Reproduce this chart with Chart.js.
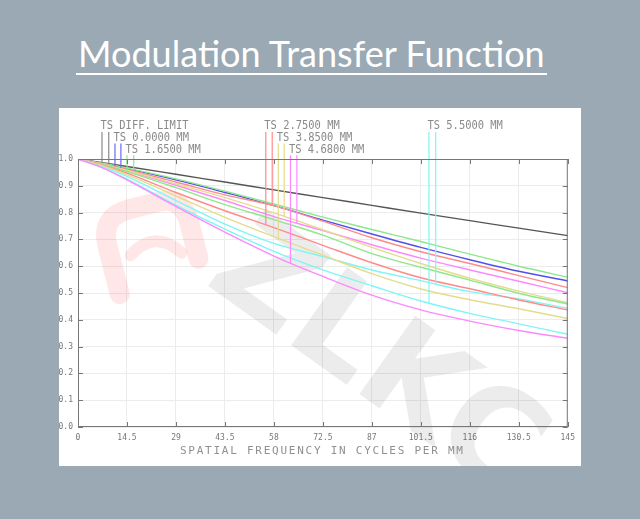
<!DOCTYPE html>
<html>
<head>
<meta charset="utf-8">
<script src="https://cdn.jsdelivr.net/npm/chart.js@4.4.0/dist/chart.umd.min.js"></script>
<style>
  body { margin: 0; width: 640px; height: 519px; background: #9aa9b4; overflow: hidden; position: relative; }
  #title { position: absolute; left: 78px; top: 35px; font: 36px/36px Lato, sans-serif; color: #fff; white-space: nowrap; transform-origin: 0 0; }
  #rule { position: absolute; left: 76px; top: 73px; width: 471px; height: 2px; background: #fff; }
  #panel { position: absolute; left: 59px; top: 108px; width: 522px; height: 358px; background: #fff; }
</style>
</head>
<body>
<div id="title">Modulation Transfer Function</div>
<div id="rule"></div>
<div id="panel"><canvas id="myChart" width="522" height="358"></canvas></div>
<script>
// spatial frequency (cycles/mm) where values were read
let freq = [0, 7.25, 14.5, 29, 43.5, 58, 72.5, 87, 101.5, 116, 130.5, 145];

let diffLimit = [1.0, 0.986, 0.972, 0.943, 0.914, 0.885, 0.856, 0.827, 0.798, 0.770, 0.742, 0.714];
let field0S = [1.0, 0.983, 0.964, 0.922, 0.875, 0.826, 0.772, 0.720, 0.670, 0.624, 0.581, 0.545];
let field165T = [1.0, 0.979, 0.953, 0.893, 0.830, 0.774, 0.716, 0.647, 0.596, 0.548, 0.499, 0.459];
let field165S = [1.0, 0.984, 0.966, 0.926, 0.880, 0.832, 0.783, 0.737, 0.692, 0.645, 0.600, 0.559];
let field275T = [1.0, 0.977, 0.947, 0.875, 0.807, 0.744, 0.678, 0.613, 0.557, 0.516, 0.474, 0.437];
let field275S = [1.0, 0.982, 0.961, 0.914, 0.866, 0.826, 0.768, 0.706, 0.654, 0.610, 0.565, 0.520];
let field385T = [1.0, 0.975, 0.942, 0.862, 0.782, 0.710, 0.641, 0.572, 0.515, 0.475, 0.441, 0.405];
let field385S = [1.0, 0.981, 0.958, 0.907, 0.856, 0.799, 0.736, 0.670, 0.610, 0.555, 0.507, 0.464];
let field468T = [1.0, 0.967, 0.922, 0.823, 0.727, 0.638, 0.562, 0.492, 0.437, 0.395, 0.360, 0.331];
let field468S = [1.0, 0.980, 0.956, 0.902, 0.845, 0.785, 0.733, 0.680, 0.630, 0.586, 0.544, 0.501];
let field55T = [1.0, 0.968, 0.925, 0.828, 0.738, 0.655, 0.586, 0.527, 0.470, 0.424, 0.385, 0.346];
let field55S = [1.0, 0.972, 0.935, 0.845, 0.757, 0.685, 0.636, 0.586, 0.546, 0.505, 0.478, 0.443];

let legendNames = ["TS DIFF. LIMIT", "TS 0.0000 MM", "TS 1.6500 MM", "TS 2.7500 MM", "TS 3.8500 MM", "TS 4.6800 MM", "TS 5.5000 MM"];
let legendColors = ["#8a8a8a", "#6a6af0", "#8ce88c", "#ff8a8a", "#e4dc8c", "#ff88ff", "#7ff5f5"];
// frequency of the two marker lines (T, S) under each legend entry
let markerFreq = [[7.1, 9.1], [10.95, 12.7], [14.5, 16.5], [55.6, 57.5], [59.3, 61.05], [62.9, 64.8], [103.9, 105.9]];
let markerRow = [0, 1, 2, 0, 1, 2, 0];

let xTicks = [0, 14.5, 29, 43.5, 58, 72.5, 87, 101.5, 116, 130.5, 145];
let yTicks = [0, 0.1, 0.2, 0.3, 0.4, 0.5, 0.6, 0.7, 0.8, 0.9, 1.0];

// top of the marker lines for each legend row, in MTF units
const ROW_TOP = [1.101, 1.058, 1.014];

let curves = [
  { values: field468T, color: "#ff88ff" },
  { values: field55T, color: "#7ff5f5" },
  { values: field385T, color: "#e4dc8c" },
  { values: field275T, color: "#ff8a8a" },
  { values: field55S, color: "#7ff5f5" },
  { values: field165T, color: "#8ce88c" },
  { values: field385S, color: "#e4dc8c" },
  { values: field468S, color: "#ff88ff" },
  { values: field275S, color: "#ff8a8a" },
  { values: field165S, color: "#8ce88c" },
  { values: field0S, color: "#5050ee" },
  { values: diffLimit, color: "#555555" },
];
let markerCurves = [
  [diffLimit, diffLimit], [field0S, field0S], [field165T, field165S], [field275T, field275S],
  [field385T, field385S], [field468T, field468S], [field55T, field55S],
];

function valueAt(values, f) {
  for (let i = 1; i < freq.length; i++) {
    if (f <= freq[i]) {
      let t = (f - freq[i - 1]) / (freq[i] - freq[i - 1]);
      return values[i - 1] + t * (values[i] - values[i - 1]);
    }
  }
  return values[values.length - 1];
}

function buildDatasets() {
  let sets = [];
  for (let i = 0; i < legendNames.length; i++) {
    for (let k = 0; k < 2; k++) {
      let f = markerFreq[i][k];
      sets.push({
        data: [{ x: f, y: valueAt(markerCurves[i][k], f) }, { x: f, y: ROW_TOP[markerRow[i]] }],
        borderColor: legendColors[i],
        borderWidth: 1.2,
        pointRadius: 0,
        clip: false,
      });
    }
  }
  for (let c of curves) {
    sets.push({
      data: freq.map((f, i) => ({ x: f, y: c.values[i] })),
      borderColor: c.color,
      borderWidth: 1.4,
      pointRadius: 0,
      cubicInterpolationMode: "monotone",
    });
  }
  return sets;
}

const decor = {
  id: "decor",
  beforeDatasetsDraw(chart) {
    const ctx = chart.ctx;
    // faint red logo on the left
    ctx.save();
    ctx.translate(80, 140);
    ctx.rotate(-0.25);
    ctx.strokeStyle = "rgba(255,70,70,0.13)";
    ctx.lineWidth = 20;
    ctx.lineCap = "round";
    ctx.beginPath();
    ctx.moveTo(-30, 40);
    ctx.lineTo(-30, -10);
    ctx.quadraticCurveTo(-30, -40, 0, -40);
    ctx.lineTo(30, -40);
    ctx.quadraticCurveTo(55, -40, 55, -10);
    ctx.lineTo(55, 25);
    ctx.stroke();
    ctx.lineWidth = 12;
    ctx.beginPath();
    ctx.moveTo(-10, 5);
    ctx.quadraticCurveTo(20, -15, 40, 15);
    ctx.stroke();
    ctx.restore();

    // faint ZLKC watermark
    ctx.save();
    ctx.translate(316, 255);
    ctx.rotate(0.62);
    ctx.font = "bold 132px 'DejaVu Sans'";
    ctx.fillStyle = "rgba(0,0,0,0.075)";
    ctx.textAlign = "center";
    ctx.textBaseline = "middle";
    ctx.fillText("ZLKC", 0, 0);
    ctx.restore();
  },
  afterDatasetsDraw(chart) {
    const ctx = chart.ctx;
    const a = chart.chartArea;
    const xs = chart.scales.x, ys = chart.scales.y;
    ctx.save();
    ctx.strokeStyle = "#777";
    ctx.lineWidth = 1;
    ctx.strokeRect(a.left + 0.5, a.top + 0.5, a.right - a.left - 1, a.bottom - a.top - 1);
    ctx.beginPath();
    for (let v of xTicks) {
      let px = Math.round(xs.getPixelForValue(v)) + 0.5;
      ctx.moveTo(px, a.top); ctx.lineTo(px, a.top + 5);
      ctx.moveTo(px, a.bottom); ctx.lineTo(px, a.bottom - 5);
    }
    for (let v of yTicks) {
      let py = Math.round(ys.getPixelForValue(v)) + 0.5;
      ctx.moveTo(a.left, py); ctx.lineTo(a.left + 5, py);
      ctx.moveTo(a.right, py); ctx.lineTo(a.right - 5, py);
    }
    ctx.stroke();

    // legend labels above the marker lines
    ctx.fillStyle = "#8a8a8a";
    ctx.font = "12px 'DejaVu Sans Mono'";
    ctx.textBaseline = "alphabetic";
    for (let i = 0; i < legendNames.length; i++) {
      let x = xs.getPixelForValue(markerFreq[i][0]) - 1.5;
      let y = ys.getPixelForValue(ROW_TOP[markerRow[i]]) - 2.5;
      ctx.save();
      ctx.translate(x, y);
      ctx.scale(0.87, 1);
      ctx.fillText(legendNames[i], 0, 0);
      ctx.restore();
    }

    // axis title
    ctx.font = "11px 'DejaVu Sans Mono'";
    let title = "SPATIAL FREQUENCY IN CYCLES PER MM";
    let w = ctx.measureText(title).width;
    ctx.letterSpacing = ((283 - w) / (title.length - 1)).toFixed(2) + "px";
    ctx.fillStyle = "#909090";
    ctx.fillText(title, 121, 346);
    ctx.restore();
  },
};

function renderChart() {
  const ctx = document.getElementById("myChart");
  const tickFont = { family: "'DejaVu Sans Mono'", size: 8 };

  new Chart(ctx, {
    type: "line",
    data: { datasets: buildDatasets() },
    plugins: [decor],
    options: {
      responsive: false,
      animation: false,
      events: [],
      layout: { padding: { top: 51, right: 9, left: 0, bottom: 0 } },
      plugins: { legend: { display: false }, tooltip: { enabled: false } },
      scales: {
        x: {
          type: "linear",
          min: 0,
          max: 145,
          afterBuildTicks: (s) => { s.ticks = xTicks.map((v) => ({ value: v })); },
          afterFit: (s) => { s.height = 39; },
          grid: { color: "#ececec", drawTicks: false },
          border: { display: false },
          ticks: { font: tickFont, color: "#777", padding: 6, maxRotation: 0, autoSkip: false, callback: (v) => String(v) },
        },
        y: {
          min: 0,
          max: 1,
          afterBuildTicks: (s) => { s.ticks = yTicks.map((v) => ({ value: v })); },
          afterFit: (s) => { s.width = 19; },
          grid: { color: "#ececec", drawTicks: false },
          border: { display: false },
          ticks: { font: tickFont, color: "#777", padding: 5, callback: (v) => v.toFixed(1) },
        },
      },
    },
  });
}

function fitTitle() {
  const el = document.getElementById("title");
  el.style.transform = "scaleX(" + (467 / el.scrollWidth).toFixed(3) + ")";
}

fitTitle();
renderChart();
</script>
</body>
</html>
